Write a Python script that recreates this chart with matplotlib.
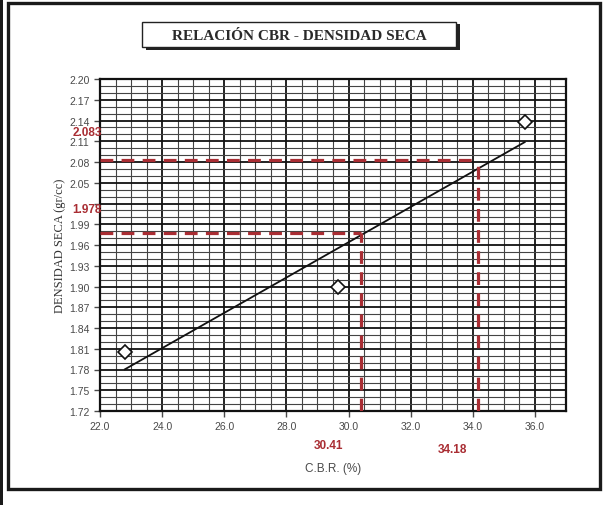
import numpy as np
import matplotlib
matplotlib.use("Agg")
import matplotlib.pyplot as plt
from matplotlib.patches import Rectangle
from matplotlib.ticker import MultipleLocator, FixedFormatter

# Ensayo CBR: densidad seca frente a C.B.R.
cbr = [22.8, 29.65, 35.67]
densidad = [1.806, 1.900, 2.138]

# Valores de diseño leídos sobre la recta
cbr_diseno = [30.41, 34.18]
dens_diseno = [1.978, 2.083]

x_ticks = [22.0, 24.0, 26.0, 28.0, 30.0, 32.0, 34.0, 36.0]
y_ticks = [2.20, 2.17, 2.14, 2.11, 2.08, 2.05, 2.02, 1.99, 1.96, 1.93,
           1.90, 1.87, 1.84, 1.81, 1.78, 1.75, 1.72]
# la etiqueta 2.02 queda tapada por el valor de diseño 1.978
y_tick_labels = ["" if abs(v - 2.02) < 1e-9 else f"{v:.2f}" for v in y_ticks]

RED = "#a92d33"
GRAY = "#4a4a4a"

fig = plt.figure(figsize=(6.05, 5.06), dpi=100)
fig.patch.set_facecolor("white")

# outer frame
fig.add_artist(Rectangle((8 / 605, 1 - 490 / 506), 592 / 605, 486 / 506,
                         transform=fig.transFigure, fill=False,
                         edgecolor="#1a1a1a", linewidth=2.4))
fig.add_artist(Rectangle((0, 0), 3 / 605, 1, transform=fig.transFigure,
                         facecolor="#1a1a1a", edgecolor="none"))

ax = fig.add_axes([100 / 605, 1 - 412 / 506, 466 / 605, 332 / 506])
ax.set_xlim(22.0, 37.0)
ax.set_ylim(1.72, 2.20)

ax.set_xticks(x_ticks)
ax.set_xticklabels([f"{v:.1f}" for v in x_ticks])
ax.set_yticks(y_ticks)
ax.set_yticklabels(y_tick_labels)
ax.xaxis.set_minor_locator(MultipleLocator(0.5))
ax.yaxis.set_minor_locator(MultipleLocator(0.01))

ax.grid(which="major", color="#111111", linewidth=1.3)
ax.grid(which="minor", color="#444444", linewidth=0.8)
ax.set_axisbelow(True)

for s in ax.spines.values():
    s.set_linewidth(1.6)
    s.set_color("#111111")

ax.tick_params(axis="both", which="major", labelsize=7.5, colors=GRAY,
               length=4, width=1.0, direction="out")
ax.tick_params(axis="both", which="minor", length=0)
for lab in ax.get_xticklabels() + ax.get_yticklabels():
    lab.set_fontfamily("Liberation Sans")
    lab.set_color(GRAY)

# linear trend
coef = np.polyfit(cbr, densidad, 1)
xt = np.array([min(cbr), max(cbr)])
ax.plot(xt, np.polyval(coef, xt), color="#111111", linewidth=1.3, zorder=3)

# measured points
ax.plot(cbr, densidad, linestyle="none", marker="D", markersize=7.5,
        markerfacecolor="white", markeredgecolor="#111111",
        markeredgewidth=1.2, zorder=4)

# design values (dashed guides)
for xv, yv in zip(cbr_diseno, dens_diseno):
    ax.plot([22.0, xv], [yv, yv], color=RED, linewidth=2.3,
            dashes=(4, 2.6), zorder=3)
    ax.plot([xv, xv], [1.72, yv], color=RED, linewidth=2.3,
            dashes=(4, 2.6), zorder=3)

y_offsets = {1.978: 24, 2.083: 28}
for yv in dens_diseno:
    ax.annotate(f"{yv:.3f}", xy=(0, yv), xycoords=("axes fraction", "data"),
                xytext=(2, y_offsets[yv]), textcoords="offset pixels",
                ha="right", va="center", fontsize=8.5, fontweight="bold",
                color=RED, family="Liberation Sans", zorder=6,
                annotation_clip=False)

x_offsets = {30.41: (-33, -34), 34.18: (-26, -38)}
for xv in cbr_diseno:
    ax.annotate(f"{xv:.2f}", xy=(xv, 0), xycoords=("data", "axes fraction"),
                xytext=x_offsets[xv], textcoords="offset pixels",
                ha="center", va="center", fontsize=8.5, fontweight="bold",
                color=RED, family="Liberation Sans", annotation_clip=False)

ax.set_xlabel("C.B.R. (%)", fontsize=8.5, color=GRAY, family="Liberation Sans",
              labelpad=22)
ax.set_ylabel("DENSIDAD SECA (gr/cc)", fontsize=9, color="#333333",
              family="Liberation Serif", labelpad=2)

# title box with drop shadow
fig.add_artist(Rectangle((146 / 605, 1 - 51 / 506), 314 / 605, 26 / 506,
                         transform=fig.transFigure, facecolor="#222222",
                         edgecolor="none"))
fig.add_artist(Rectangle((142 / 605, 1 - 48 / 506), 314 / 605, 25 / 506,
                         transform=fig.transFigure, facecolor="white",
                         edgecolor="#222222", linewidth=1.0))
fig.text(299 / 605, 1 - 36 / 506, "RELACIÓN CBR - DENSIDAD SECA",
         ha="center", va="center", fontsize=11, fontweight="bold",
         family="Liberation Serif", color="#2a2a2a")

fig.savefig("out.png", dpi=100)
